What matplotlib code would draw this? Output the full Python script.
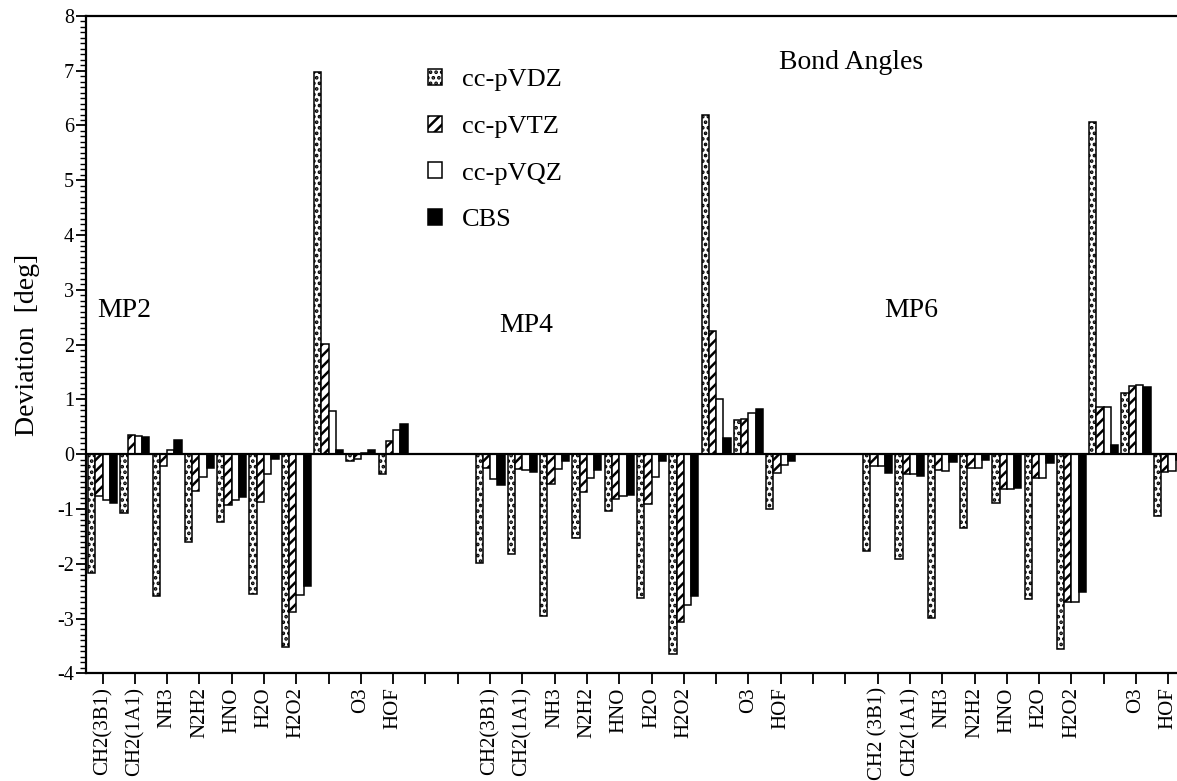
import matplotlib
matplotlib.use("Agg")
import matplotlib.pyplot as plt
from matplotlib.ticker import MultipleLocator
import numpy as np

plt.rcParams['font.family'] = ['Liberation Serif', 'DejaVu Serif']
plt.rcParams['axes.unicode_minus'] = False
plt.rcParams['hatch.linewidth'] = 1.8

# Datos: desviaciones de ángulos de enlace [deg]
moleculas = ["CH2(3B1)", "CH2(1A1)", "NH3", "N2H2", "HNO", "H2O", "H2O2", "", "O3", "HOF"]
moleculas_mp6 = ["CH2 (3B1)", "CH2(1A1)", "NH3", "N2H2", "HNO", "H2O", "H2O2", "", "O3", "HOF"]
metodos = ["MP2", "MP4", "MP6"]
bases = ["cc-pVDZ", "cc-pVTZ", "cc-pVQZ", "CBS"]

mp2_vdz = [-2.17, -1.07, -2.59, -1.60, -1.23, -2.56, -3.52, 6.98, -0.13, -0.37]
mp2_vtz = [-0.77, 0.35, -0.22, -0.68, -0.93, -0.87, -2.88, 2.02, -0.08, 0.24]
mp2_vqz = [-0.84, 0.33, 0.08, -0.42, -0.83, -0.37, -2.57, 0.78, 0.03, 0.44]
mp2_cbs = [-0.89, 0.31, 0.25, -0.26, -0.79, -0.08, -2.41, 0.07, 0.07, 0.56]

mp4_vdz = [-1.98, -1.82, -2.95, -1.53, -1.04, -2.62, -3.64, 6.20, 0.63, -1.00]
mp4_vtz = [-0.25, -0.27, -0.54, -0.69, -0.81, -0.91, -3.07, 2.24, 0.65, -0.35]
mp4_vqz = [-0.45, -0.29, -0.27, -0.44, -0.77, -0.41, -2.76, 1.01, 0.75, -0.20]
mp4_cbs = [-0.57, -0.32, -0.12, -0.28, -0.75, -0.12, -2.58, 0.30, 0.82, -0.12]

mp6_vdz = [-1.76, -1.91, -2.99, -1.35, -0.90, -2.64, -3.56, 6.06, 1.12, -1.13]
mp6_vtz = [-0.22, -0.36, -0.29, -0.25, -0.63, -0.44, -2.69, 0.86, 1.25, -0.32]
mp6_vqz = [-0.22, -0.37, -0.30, -0.26, -0.63, -0.44, -2.69, 0.87, 1.26, -0.31]
mp6_cbs = [-0.35, -0.40, -0.15, -0.11, -0.62, -0.16, -2.51, 0.16, 1.22, -0.10]

datos = [
    [mp2_vdz, mp2_vtz, mp2_vqz, mp2_cbs],
    [mp4_vdz, mp4_vtz, mp4_vqz, mp4_cbs],
    [mp6_vdz, mp6_vtz, mp6_vqz, mp6_cbs],
]

estilos = [
    dict(facecolor="white", hatch="..."),
    dict(facecolor="white", hatch="///"),
    dict(facecolor="white", hatch=""),
    dict(facecolor="black", hatch=""),
]

fig = plt.figure(figsize=(11.77, 7.81), dpi=100)
ax = fig.add_axes([0.0734, 0.1379, 0.9266, 0.8417])

n = len(moleculas)
paso = n + 2
w = 0.225
posiciones = []
etiquetas = []
for g in range(len(metodos)):
    x = np.arange(n) + g * paso
    for j in range(len(bases)):
        ax.bar(x + (j - 1.5) * w, datos[g][j], width=w, edgecolor="black",
               linewidth=1.1, label=bases[j] if g == 0 else None, **estilos[j])
    posiciones += list(x)
    etiquetas += moleculas_mp6 if g == 2 else moleculas
    if g < len(metodos) - 1:
        posiciones += [g * paso + n, g * paso + n + 1]
        etiquetas += ["", ""]

ax.axhline(0, color="black", lw=1.6, zorder=3)

ax.set_xlim(-0.5, 33.27)
ax.set_ylim(-4, 8)
ax.set_xticks(posiciones)
ax.set_xticklabels(etiquetas, rotation=90, fontsize=15)
ax.yaxis.set_major_locator(MultipleLocator(1))
ax.yaxis.set_minor_locator(MultipleLocator(0.1))
ax.tick_params(axis="y", which="major", direction="out", length=7, width=1.3, labelsize=14.5, pad=2)
ax.tick_params(axis="y", which="minor", direction="out", length=4, width=1.0)
ax.tick_params(axis="x", which="major", direction="out", length=8, width=1.3, pad=2)
ax.spines["right"].set_visible(False)
for s in ["left", "bottom", "top"]:
    ax.spines[s].set_linewidth(1.6)

ax.set_ylabel("Deviation  [deg]", fontsize=20, labelpad=12)

ax.text(-0.17, 2.63, "MP2", fontsize=20, ha="left", va="center")
ax.text(12.28, 2.35, "MP4", fontsize=20, ha="left", va="center")
ax.text(24.19, 2.63, "MP6", fontsize=20, ha="left", va="center")
ax.text(20.94, 7.15, "Bond Angles", fontsize=20, ha="left", va="center")

ax.legend(loc="upper left", bbox_to_anchor=(0.3132, 0.919), frameon=False,
          fontsize=19, handlelength=0.55, handleheight=0.55, handletextpad=0.75,
          labelspacing=0.92, borderpad=0, borderaxespad=0)

fig.savefig("out.png", dpi=100)
